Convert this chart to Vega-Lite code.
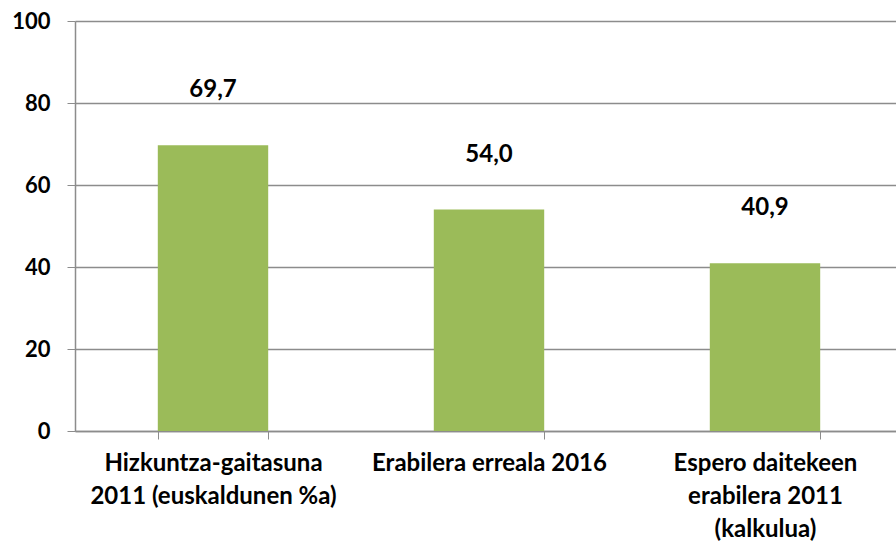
{
  "$schema": "https://vega.github.io/schema/vega-lite/v6.json",
  "autosize": {"type": "none"},
  "padding": {"left": 75, "top": 21, "right": 0, "bottom": 111},
  "width": 828,
  "height": 410,
  "background": "white",
  "config": {
    "view": {"stroke": null},
    "font": "Lato"
  },
  "data": {
    "values": [
      {"category": "Hizkuntza-gaitasuna|2011 (euskaldunen %a)", "value": 69.7, "label": "69,7"},
      {"category": "Erabilera erreala 2016", "value": 54.0, "label": "54,0"},
      {"category": "Espero daitekeen|erabilera 2011|(kalkulua)", "value": 40.9, "label": "40,9"}
    ]
  },
  "encoding": {
    "x": {
      "field": "category",
      "type": "nominal",
      "sort": null,
      "scale": {"paddingInner": 0.6, "paddingOuter": 0.3},
      "axis": {
        "title": null,
        "labelAngle": 0,
        "labelExpr": "split(datum.label, '|')",
        "labelFont": "Lato",
        "labelFontWeight": "bold",
        "labelFontSize": 24,
        "labelColor": "#000000",
        "labelLineHeight": 33,
        "labelBaseline": "top",
        "labelPadding": 12,
        "labelLimit": 300,
        "tickBand": "extent",
        "tickSize": 8,
        "tickColor": "#8c8c8c",
        "domainColor": "#8c8c8c",
        "domainWidth": 1.5,
        "grid": false
      }
    }
  },
  "layer": [
    {
      "mark": {"type": "bar", "color": "#9BBB59"},
      "encoding": {
        "y": {
          "field": "value",
          "type": "quantitative",
          "scale": {"domain": [0, 100]},
          "axis": {
            "title": null,
            "values": [0, 20, 40, 60, 80, 100],
            "labelFont": "Lato",
            "labelFontWeight": "bold",
            "labelFontSize": 22,
            "labelColor": "#000000",
            "labelPadding": 17,
            "tickSize": 8,
            "tickColor": "#8c8c8c",
            "domainColor": "#8c8c8c",
            "domainWidth": 1.5,
            "gridColor": "#8c8c8c",
            "gridWidth": 1.5
          }
        }
      }
    },
    {
      "mark": {"type": "text", "font": "Lato", "fontWeight": "bold", "fontSize": 24, "color": "#000000", "baseline": "middle", "dy": -55},
      "encoding": {
        "y": {"field": "value", "type": "quantitative"},
        "text": {"field": "label"}
      }
    }
  ]
}
